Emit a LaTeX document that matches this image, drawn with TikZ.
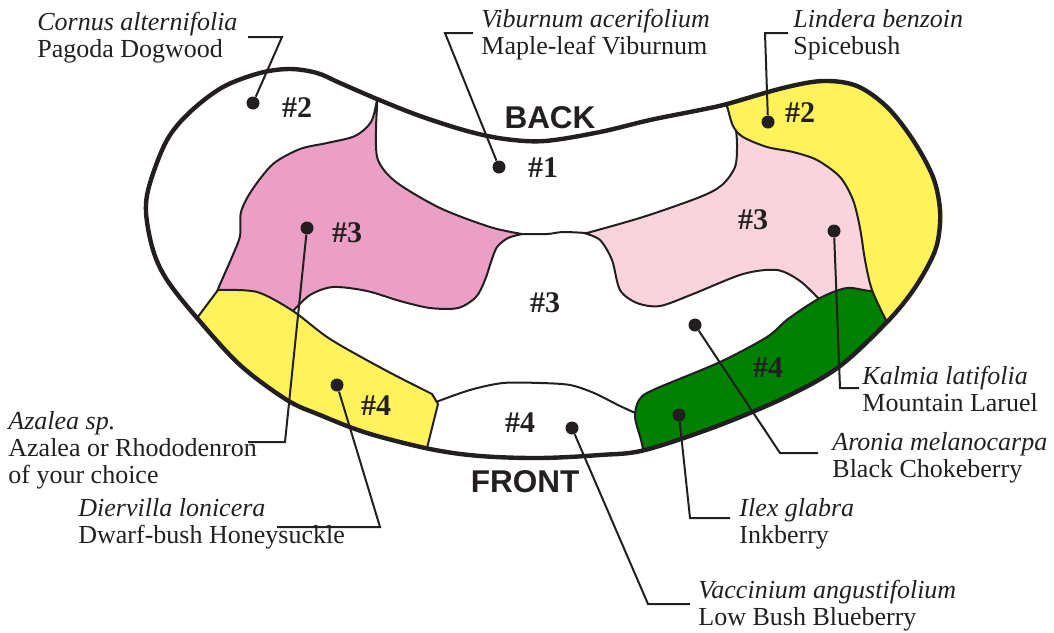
\documentclass[tikz,border=0pt]{standalone}
\usepackage{fontspec}
\setmainfont{Liberation Serif}
\setsansfont{Liberation Sans}
\usetikzlibrary{calc}
\definecolor{inkdark}{RGB}{35,31,32}
\definecolor{azaleapink}{RGB}{236,159,197}
\definecolor{laurelpink}{RGB}{249,212,220}
\definecolor{shrubyellow}{RGB}{255,242,90}
\definecolor{shrubgreen}{RGB}{0,128,0}
\tikzset{
  bedline/.style={draw=inkdark, line width=2.2pt, line join=round},
  zoneline/.style={draw=inkdark, line width=1pt, line join=round},
  leader/.style={draw=inkdark, line width=1pt},
  leafdot/.style={circle, fill=inkdark, inner sep=0pt, minimum size=6.5pt},
  zonenum/.style={font=\fontsize{15}{15}\selectfont\bfseries, text=inkdark},
  sidelabel/.style={font=\sffamily\fontsize{15.75}{15.75}\selectfont\bfseries, text=inkdark},
  plantlabel/.style={anchor=west, align=left, inner sep=0pt, text=inkdark,
    font=\fontsize{13}{13.5}\selectfont}
}
\newcommand{\bedoutline}{plot[smooth cycle, tension=0.55] coordinates {
  (146,212) (150,183) (167,140) (190,112) (223,87) (260,73) (290,69) (317,73)
  (340,83) (377,99) (420,116) (467,131) (505,139) (545,141) (600,132) (650,120)
  (700,110) (727,104) (783,88) (823,81) (857,86) (887,107) (913,140) (933,177)
  (940,210) (938,240) (930,262) (912,292) (887,322) (840,366) (790,395) (720,425)
  (645,450) (600,455) (540,458) (480,456) (430,449) (367,433) (320,415) (287,400)
  (240,365) (197,318) (167,280) (153,250)}}

\begin{document}
\begin{tikzpicture}[x=0.5pt, y=-0.5pt]
  \useasboundingbox (0,0) rectangle (1054,632);

  % --- planting zones ---
  \begin{scope}
    \clip \bedoutline;
    % azalea zone
    \path[zoneline, fill=azaleapink]
      plot[smooth] coordinates {(378,90) (377,100) (371,122) (355,136) (327,143) (300,149)
        (273,164) (252,190) (241,212) (240,236) (232,257) (221,282) (216,294)}
      -- (218,300) -- (293,318)
      -- plot[smooth] coordinates {(293,311) (310,295) (333,287) (367,291) (400,301) (430,308)
        (458,308) (476,297) (485,280) (491,262) (497,247) (508,238) (522,234)}
      -- plot[smooth] coordinates {(522,234) (490,227) (440,208) (396,182) (378,160) (376,130) (378,90)}
      -- cycle;
    % honeysuckle zone
    \path[zoneline, fill=shrubyellow]
      (188,330) -- (218,290)
      -- plot[smooth] coordinates {(218,290) (257,292) (293,311) (330,339) (385,370) (432,394)}
      -- (438,404) -- (426,452) -- (422,475) -- (300,445) -- (165,345) -- cycle;
    % blueberry and viburnum edges
    \draw[zoneline] plot[smooth] coordinates {(436,402) (470,390) (503,383) (540,383) (570,385)
      (594,393) (620,406) (640,415)};
    \draw[zoneline] plot[smooth] coordinates {(520,234) (547,234) (563,232) (586,233)};
    % laurel zone
    \path[zoneline, fill=laurelpink]
      plot[smooth] coordinates {(727,94) (727,106) (735,125) (737,145) (735,167) (722,185)
        (700,197) (643,217) (587,233)}
      -- plot[smooth] coordinates {(584,233) (600,240) (612,260) (620,290) (637,303) (660,306)
        (693,294) (743,274) (777,270) (800,281) (820,300)}
      -- (900,335) -- (970,200) -- (900,40) -- (727,70) -- cycle;
    % inkberry zone
    \path[zoneline, fill=shrubgreen]
      plot[smooth] coordinates {(895,284) (873,291) (847,288) (820,298) (788,319) (767,337)
        (720,362) (653,390) (639,400) (635,417) (641,440) (645,458)}
      -- (645,480) -- (930,330) -- cycle;
    % spicebush zone
    \path[zoneline, fill=shrubyellow]
      plot[smooth] coordinates {(722,92) (727,106) (733,126) (743,137) (767,147) (793,152)
        (817,160) (840,177) (853,200) (860,228) (865,260) (872,290) (887,322) (895,335)}
      -- (970,300) -- (970,40) -- (722,60) -- cycle;
  \end{scope}
  \draw[bedline] \bedoutline;

  % --- zone numbers ---
  \node[zonenum] (n2left) at (297,108) {\#2};
  \node[zonenum] (n1) at (543,168) {\#1};
  \node[zonenum] (n2right) at (800,113) {\#2};
  \node[zonenum] (n3left) at (347,233) {\#3};
  \node[zonenum] (n3right) at (753,220) {\#3};
  \node[zonenum] (n3mid) at (545,303) {\#3};
  \node[zonenum] (n4green) at (768,368) {\#4};
  \node[zonenum] (n4yellow) at (376,406) {\#4};
  \node[zonenum] (n4mid) at (520,423) {\#4};
  \node[sidelabel] (back) at (550,118) {BACK};
  \node[sidelabel] (front) at (525,482) {FRONT};

  % --- plant labels ---
  \node[plantlabel] (dogwoodlbl) at (37,37.5) {\textit{Cornus alternifolia}\\Pagoda Dogwood};
  \node[plantlabel] (viburnumlbl) at (481,34.5) {\textit{Viburnum acerifolium}\\Maple-leaf Viburnum};
  \node[plantlabel] (spicebushlbl) at (793,34.5) {\textit{Lindera benzoin}\\Spicebush};
  \node[plantlabel] (azalealbl) at (8,450) {\textit{Azalea sp.}\\Azalea or Rhododenron\\of your choice};
  \node[plantlabel] (honeysucklelbl) at (78,524) {\textit{Diervilla lonicera}\\Dwarf-bush Honeysuckle};
  \node[plantlabel] (laurellbl) at (862,389) {\textit{Kalmia latifolia}\\Mountain Laruel};
  \node[plantlabel] (chokeberrylbl) at (832,458) {\textit{Aronia melanocarpa}\\Black Chokeberry};
  \node[plantlabel] (inkberrylbl) at (739,524) {\textit{Ilex glabra}\\Inkberry};
  \node[plantlabel] (blueberrylbl) at (698,606) {\textit{Vaccinium angustifolium}\\Low Bush Blueberry};

  % --- dots ---
  \node[leafdot] (dogwood) at (253,103) {};
  \node[leafdot] (viburnum) at (499,167) {};
  \node[leafdot] (spicebush) at (768,122) {};
  \node[leafdot] (azalea) at (307,228) {};
  \node[leafdot] (honeysuckle) at (337,385) {};
  \node[leafdot] (laurel) at (834,231) {};
  \node[leafdot] (chokeberry) at (695,325) {};
  \node[leafdot] (inkberry) at (679,415) {};
  \node[leafdot] (blueberry) at (572,428) {};

  % --- leaders ---
  \coordinate (dogwoodbend) at (282,37);
  \coordinate (dogwoodend) at (248,37);
  \coordinate (viburnumbend) at (445,33);
  \coordinate (spicebushbend) at (765,33);
  \coordinate (azaleabend) at (285,442);
  \coordinate (azaleaend) at (248,442);
  \coordinate (honeysucklebend) at (380,527);
  \coordinate (honeysuckleend) at (277,527);
  \coordinate (laurelbend) at (840,388);
  \coordinate (chokeberrybend) at (780,453);
  \coordinate (inkberrybend) at (690,518);
  \coordinate (blueberrybend) at (648,604);

  \draw[leader] (dogwood) -- (dogwoodbend) -- (dogwoodend);
  \draw[leader] (viburnum) -- (viburnumbend) -- ($(viburnumbend -| viburnumlbl.west)+(-8,0)$);
  \draw[leader] (spicebush) -- (spicebushbend) -- ($(spicebushbend -| spicebushlbl.west)+(-5,0)$);
  \draw[leader] (azalea) -- (azaleabend) -- (azaleaend);
  \draw[leader] (honeysuckle) -- (honeysucklebend) -- (honeysuckleend);
  \draw[leader] (laurel) -- (laurelbend) -- ($(laurelbend -| laurellbl.west)+(-3,0)$);
  \draw[leader] (chokeberry) -- (chokeberrybend) -- ($(chokeberrybend -| chokeberrylbl.west)+(-14,0)$);
  \draw[leader] (inkberry) -- (inkberrybend) -- ($(inkberrybend -| inkberrylbl.west)+(-9,0)$);
  \draw[leader] (blueberry) -- (blueberrybend) -- ($(blueberrybend -| blueberrylbl.west)+(-8,0)$);

\end{tikzpicture}
\end{document}
